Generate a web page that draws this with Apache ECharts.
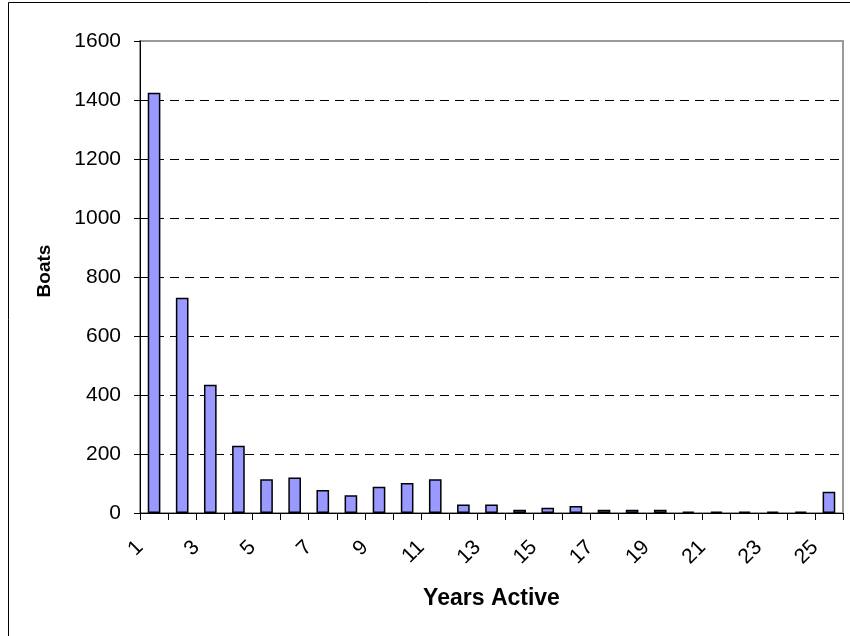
<!DOCTYPE html>
<html>
<head>
<meta charset="utf-8">
<script src="https://cdn.jsdelivr.net/npm/echarts@6/dist/echarts.min.js"></script>
<style>
  html, body { margin: 0; padding: 0; background: #fff; }
  #chart { width: 850px; height: 636px; }
</style>
</head>
<body>
<div id="chart"></div>
<script>
// Years a boat stayed active, and how many boats fall in each bucket
const years = ['1','2','3','4','5','6','7','8','9','10','11','12','13','14','15','16','17','18','19','20','21','22','23','24','25'];
const boats = [1425, 730, 435, 228, 114, 120, 78, 60, 89, 102, 114, 29, 29, 11, 18, 24, 11, 11, 11, 5, 5, 5, 5, 5, 72];
const yTicks = { min: 0, max: 1600, interval: 200 };

const FONT = "Arial, 'Liberation Sans', sans-serif";

const chart = echarts.init(document.getElementById('chart'), null, { renderer: 'canvas' });

chart.setOption({
  backgroundColor: '#ffffff',
  animation: false,
  graphic: [
    {
      // outer chart frame
      type: 'rect',
      shape: { x: 8.5, y: 2.5, width: 900, height: 700 },
      style: { fill: 'none', stroke: '#000', lineWidth: 1 },
      silent: true,
      z: -10
    }
  ],
  grid: {
    left: 140,
    right: 7,
    top: 41,
    bottom: 123,
    show: true,
    borderColor: '#9a9a9a',
    borderWidth: 2,
    backgroundColor: 'transparent'
  },
  xAxis: {
    type: 'category',
    data: years,
    boundaryGap: true,
    name: 'Years Active',
    nameLocation: 'middle',
    nameGap: 74,
    nameTextStyle: { fontFamily: FONT, fontSize: 23, fontWeight: 'bold', color: '#000' },
    axisLine: { show: true, lineStyle: { color: '#000', width: 1 } },
    axisTick: { show: true, interval: 0, length: 7, lineStyle: { color: '#000' } },
    axisLabel: {
      interval: 1,
      rotate: 45,
      margin: 17,
      padding: [0, 20, 0, 0],
      fontFamily: FONT,
      fontSize: 21,
      color: '#000'
    },
    splitLine: { show: false }
  },
  yAxis: {
    type: 'value',
    min: yTicks.min,
    max: yTicks.max,
    interval: yTicks.interval,
    name: 'Boats',
    nameLocation: 'middle',
    nameRotate: 90,
    nameGap: 86,
    nameTextStyle: { fontFamily: FONT, fontSize: 19, fontWeight: 'bold', color: '#000', padding: [0, 0, 0, 12] },
    axisLine: { show: true, lineStyle: { color: '#000', width: 1 } },
    axisTick: { show: true, length: 6, lineStyle: { color: '#000' } },
    axisLabel: {
      margin: 19,
      fontFamily: FONT,
      fontSize: 21,
      color: '#000',
      formatter: (v) => String(v)
    },
    splitLine: {
      show: true,
      showMinLine: false,
      showMaxLine: false,
      lineStyle: { color: '#000', width: 1, type: [9, 6] }
    }
  },
  series: [
    {
      type: 'bar',
      data: boats,
      barWidth: '45%',
      itemStyle: { color: '#9999ff', borderColor: '#000', borderWidth: 1.5 }
    }
  ]
});
</script>
</body>
</html>
